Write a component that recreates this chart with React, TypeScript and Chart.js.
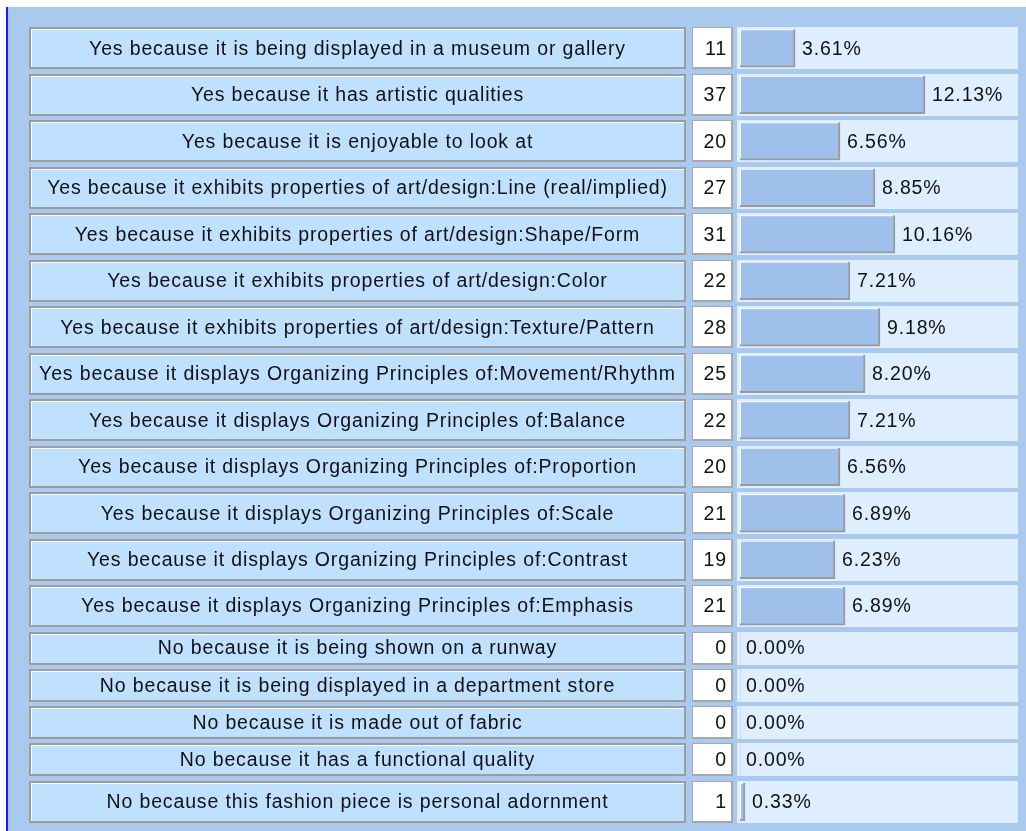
import React, { useEffect, useRef } from "react";
import { Chart, registerables } from "chart.js";

Chart.register(...registerables);

const labels: string[] = [
  "Yes because it is being displayed in a museum or gallery",
  "Yes because it has artistic qualities",
  "Yes because it is enjoyable to look at",
  "Yes because it exhibits properties of art/design:Line (real/implied)",
  "Yes because it exhibits properties of art/design:Shape/Form",
  "Yes because it exhibits properties of art/design:Color",
  "Yes because it exhibits properties of art/design:Texture/Pattern",
  "Yes because it displays Organizing Principles of:Movement/Rhythm",
  "Yes because it displays Organizing Principles of:Balance",
  "Yes because it displays Organizing Principles of:Proportion",
  "Yes because it displays Organizing Principles of:Scale",
  "Yes because it displays Organizing Principles of:Contrast",
  "Yes because it displays Organizing Principles of:Emphasis",
  "No because it is being shown on a runway",
  "No because it is being displayed in a department store",
  "No because it is made out of fabric",
  "No because it has a functional quality",
  "No because this fashion piece is personal adornment",
];

const counts: number[] = [11, 37, 20, 27, 31, 22, 28, 25, 22, 20, 21, 19, 21, 0, 0, 0, 0, 1];

const percents: number[] = [
  3.61, 12.13, 6.56, 8.85, 10.16, 7.21, 9.18, 8.2, 7.21, 6.56, 6.89, 6.23, 6.89, 0, 0, 0, 0, 0.33,
];

const FONT = '19.5px "Liberation Sans", Arial, sans-serif';
const SPACING = "0.85px";
const TALL = 46.5;
const SHORT = 37.3;
const GAP = 4.5;

export default function App() {
  const ref = useRef<HTMLCanvasElement | null>(null);

  useEffect(() => {
    document.body.style.margin = "0";
    const canvas = ref.current;
    if (!canvas) return;

    const pitches = counts.map((c) => (c > 0 ? TALL : SHORT));
    const centers: number[] = [];
    let acc = 0;
    pitches.forEach((p) => {
      centers.push(acc + p / 2);
      acc += p;
    });
    const total = acc;

    const setFont = (ctx: any) => {
      ctx.font = FONT;
      try {
        ctx.letterSpacing = SPACING;
      } catch (e) {}
    };

    const tablePlugin = {
      id: "tablePlugin",
      beforeDatasetsDraw(chart: any) {
        const ctx = chart.ctx as CanvasRenderingContext2D;
        const ys = chart.scales.y;
        const W = chart.width;
        const H = chart.height;
        ctx.save();
        ctx.fillStyle = "#ffffff";
        ctx.fillRect(0, 0, W, H);
        ctx.fillStyle = "#a9c9ee";
        ctx.fillRect(7, 7, W - 7, H - 7);
        ctx.fillStyle = "#1a1aff";
        ctx.fillRect(6, 7, 2, H - 7);

        centers.forEach((c, i) => {
          const cy = ys.getPixelForValue(c);
          const ph = Math.abs(ys.getPixelForValue(pitches[i]) - ys.getPixelForValue(0));
          const h = ph - GAP;
          const top = Math.round(cy - h / 2);
          const hh = Math.round(h);

          // label cell
          const lx = 29, lw = 657;
          ctx.fillStyle = "#c0e0ff";
          ctx.fillRect(lx, top, lw, hh);
          ctx.fillStyle = "#9c9c9c";
          ctx.fillRect(lx, top, lw, 2);
          ctx.fillRect(lx, top, 2, hh);
          ctx.fillRect(lx, top + hh - 2, lw, 2);
          ctx.fillRect(lx + lw - 2, top, 2, hh);
          ctx.fillStyle = "#ffffff";
          ctx.fillRect(lx + 2, top + 2, lw - 4, 1);
          ctx.fillRect(lx + 2, top + 2, 1, hh - 4);

          // count cell
          const cx = 692, cw = 41;
          ctx.fillStyle = "#ffffff";
          ctx.fillRect(cx, top, cw, hh);
          ctx.fillStyle = "#a8a8a8";
          ctx.fillRect(cx, top, cw, 1);
          ctx.fillRect(cx, top, 1, hh);
          ctx.fillRect(cx, top + hh - 2, cw, 2);
          ctx.fillRect(cx + cw - 2, top, 2, hh);

          // bar cell
          ctx.fillStyle = "#deeeff";
          ctx.fillRect(737, top, 1018 - 737, hh);

          // texts
          ctx.fillStyle = "#111111";
          setFont(ctx);
          ctx.textBaseline = "middle";
          ctx.textAlign = "center";
          ctx.fillText(labels[i], lx + lw / 2, cy + 1);
          ctx.textAlign = "right";
          ctx.fillText(String(counts[i]), 727, cy + 1);
        });
        ctx.restore();
      },
      afterDatasetsDraw(chart: any) {
        const ctx = chart.ctx as CanvasRenderingContext2D;
        const meta = chart.getDatasetMeta(0);
        ctx.save();
        meta.data.forEach((el: any, i: number) => {
          const v = percents[i];
          const top = el.y - el.height / 2;
          if (v > 0) {
            ctx.fillStyle = "#ffffff";
            ctx.fillRect(el.base, top, el.x - el.base - 2, 1);
            ctx.fillRect(el.base, top, 1, el.height - 2);
          }
          ctx.fillStyle = "#111111";
          setFont(ctx);
          ctx.textBaseline = "middle";
          ctx.textAlign = "left";
          ctx.fillText(v.toFixed(2) + "%", el.x + (v > 0 ? 7 : 6), el.y + 1);
        });
        ctx.restore();
      },
    };

    const chart = new Chart(canvas, {
      type: "bar",
      data: {
        datasets: [
          {
            data: percents.map((p, i) => ({ x: p, y: centers[i] })),
            backgroundColor: "#a0c0ec",
            borderColor: "#9a9a9a",
            borderWidth: (ctx: any) =>
              percents[ctx.dataIndex] > 0 ? { top: 0, left: 0, right: 2, bottom: 2 } : 0,
            borderSkipped: false,
            barThickness: 38,
          } as any,
        ],
      },
      options: {
        indexAxis: "y",
        animation: false,
        responsive: false,
        maintainAspectRatio: false,
        layout: { padding: { left: 740, right: 8, top: 25, bottom: 6 } },
        plugins: { legend: { display: false }, tooltip: { enabled: false } },
        scales: {
          x: { type: "linear", min: 0, max: 18.23, display: false, offset: false },
          y: { type: "linear", min: 0, max: total, reverse: true, display: false, offset: false },
        },
      },
      plugins: [tablePlugin],
    });
    return () => chart.destroy();
  }, []);

  return <canvas ref={ref} width={1026} height={831} style={{ display: "block" }} />;
}
